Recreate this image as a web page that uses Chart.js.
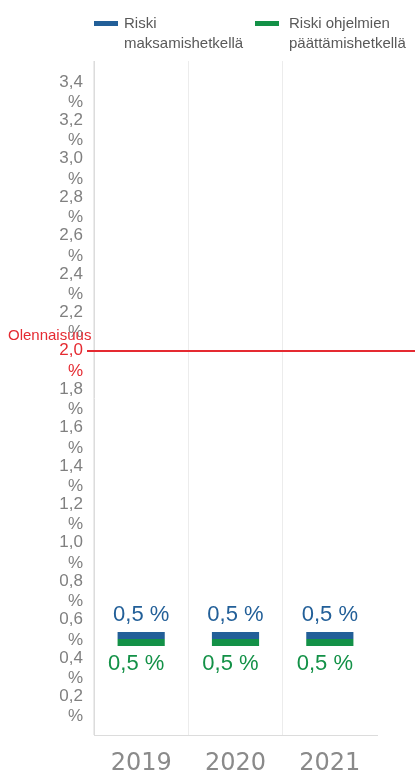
<!DOCTYPE html>
<html>
<head>
<meta charset="utf-8">
<script src="https://cdn.jsdelivr.net/npm/chart.js@4/dist/chart.umd.min.js"></script>
<style>
  html, body { margin: 0; padding: 0; background: #fff; }
  #wrap { position: relative; width: 415px; height: 772px; }
  #chart { position: absolute; left: 0; top: 0; }
  .leg { position: absolute; font-family: "Liberation Sans", Arial, sans-serif; font-size: 15px; line-height: 20px; color: #595959; white-space: nowrap; }
  .box { position: absolute; width: 24px; height: 5px; }
</style>
</head>
<body>
<div id="wrap">
  <canvas id="chart" width="415" height="772"></canvas>
  <div id="legend"></div>
</div>
<script>
// ---- data ----
const categories = ['2019', '2020', '2021'];
const seriesLabels = ['Riski maksamishetkellä', 'Riski ohjelmien päättämishetkellä'];
const legendLines = [['Riski', 'maksamishetkellä'], ['Riski ohjelmien', 'päättämishetkellä']];
const paymentRisk = [0.5, 0.5, 0.5];
const closureRisk = [0.5, 0.5, 0.5];
const tickValues = [0.2, 0.4, 0.6, 0.8, 1.0, 1.2, 1.4, 1.6, 1.8, 2.0, 2.2, 2.4, 2.6, 2.8, 3.0, 3.2, 3.4];
const materialityThreshold = 2.0;
const materialityLabel = 'Olennaisuus';

// ---- styles ----
const BLUE = '#225f98';
const GREEN = '#139147';
const RED = '#e52a31';
const GRAY = '#808080';
const BAND = 0.036;
const FONT = '"Liberation Sans", Arial, sans-serif';

const fmt = v => v.toFixed(1).replace('.', ',');

// HTML legend
const legendEl = document.getElementById('legend');
const legPos = [{ box: 94, text: 124 }, { box: 255, text: 289 }];
[BLUE, GREEN].forEach((c, i) => {
  const b = document.createElement('div');
  b.className = 'box';
  b.style.left = legPos[i].box + 'px';
  b.style.top = '21px';
  b.style.background = c;
  legendEl.appendChild(b);
  const t = document.createElement('div');
  t.className = 'leg';
  t.style.left = legPos[i].text + 'px';
  t.style.top = '13px';
  t.title = seriesLabels[i];
  t.innerHTML = legendLines[i].join('<br>');
  legendEl.appendChild(t);
});

const overlayPlugin = {
  id: 'overlay',
  afterDatasetsDraw(chart) {
    const ctx = chart.ctx;
    const y = chart.scales.y;
    const x = chart.scales.x;
    ctx.save();
    // data labels
    ctx.font = '22px ' + FONT;
    ctx.textAlign = 'center';
    ctx.textBaseline = 'middle';
    paymentRisk.forEach((v, i) => {
      ctx.fillStyle = BLUE;
      ctx.fillText(fmt(v) + ' %', x.getPixelForValue(i), y.getPixelForValue(v + BAND) - 17);
    });
    closureRisk.forEach((v, i) => {
      ctx.fillStyle = GREEN;
      ctx.fillText(fmt(v) + ' %', x.getPixelForValue(i) - 5, y.getPixelForValue(v - BAND) + 18);
    });
    // materiality line
    const py = Math.round(y.getPixelForValue(materialityThreshold));
    ctx.strokeStyle = RED;
    ctx.lineWidth = 2;
    ctx.beginPath();
    ctx.moveTo(87, py);
    ctx.lineTo(chart.width, py);
    ctx.stroke();
    ctx.fillStyle = RED;
    ctx.font = '15px ' + FONT;
    ctx.textAlign = 'left';
    ctx.textBaseline = 'middle';
    ctx.fillText(materialityLabel, 8, py - 15);
    ctx.restore();
  }
};

new Chart(document.getElementById('chart'), {
  type: 'bar',
  data: {
    labels: categories,
    datasets: [
      {
        label: seriesLabels[0],
        data: paymentRisk.map(v => [v, v + BAND]),
        backgroundColor: BLUE,
        grouped: false,
        barPercentage: 0.5,
        categoryPercentage: 1.0
      },
      {
        label: seriesLabels[1],
        data: closureRisk.map(v => [v - BAND, v]),
        backgroundColor: GREEN,
        grouped: false,
        barPercentage: 0.5,
        categoryPercentage: 1.0
      }
    ]
  },
  options: {
    responsive: false,
    animation: false,
    layout: { padding: { top: 61, right: 38, left: 0, bottom: 0 } },
    plugins: { legend: { display: false }, tooltip: { enabled: false } },
    scales: {
      x: {
        grid: {
          display: true,
          drawTicks: false,
          color: c => (c.type === 'tick' ? '#ececec' : 'rgba(0,0,0,0)')
        },
        border: { display: true, color: '#dcdcdc', width: 1 },
        ticks: {
          color: '#8a8a8a',
          padding: 14,
          font: { family: '"DejaVu Sans", Verdana, sans-serif', size: 24, lineHeight: 1.2 }
        },
        afterFit: s => { s.height = 37; }
      },
      y: {
        min: 0,
        max: 3.51,
        grid: { display: false, drawTicks: false },
        border: { display: true, color: '#dcdcdc', width: 1 },
        afterBuildTicks: s => { s.ticks = tickValues.map(v => ({ value: v })); },
        ticks: {
          padding: 11,
          labelOffset: 10,
          autoSkip: false,
          color: c => (c.tick && Math.abs(c.tick.value - materialityThreshold) < 1e-9 ? RED : GRAY),
          font: { family: FONT, size: 17, lineHeight: 1.2 },
          callback: v => [fmt(v), '%']
        },
        afterFit: s => { s.width = 94; }
      }
    }
  },
  plugins: [overlayPlugin]
});
</script>
</body>
</html>
